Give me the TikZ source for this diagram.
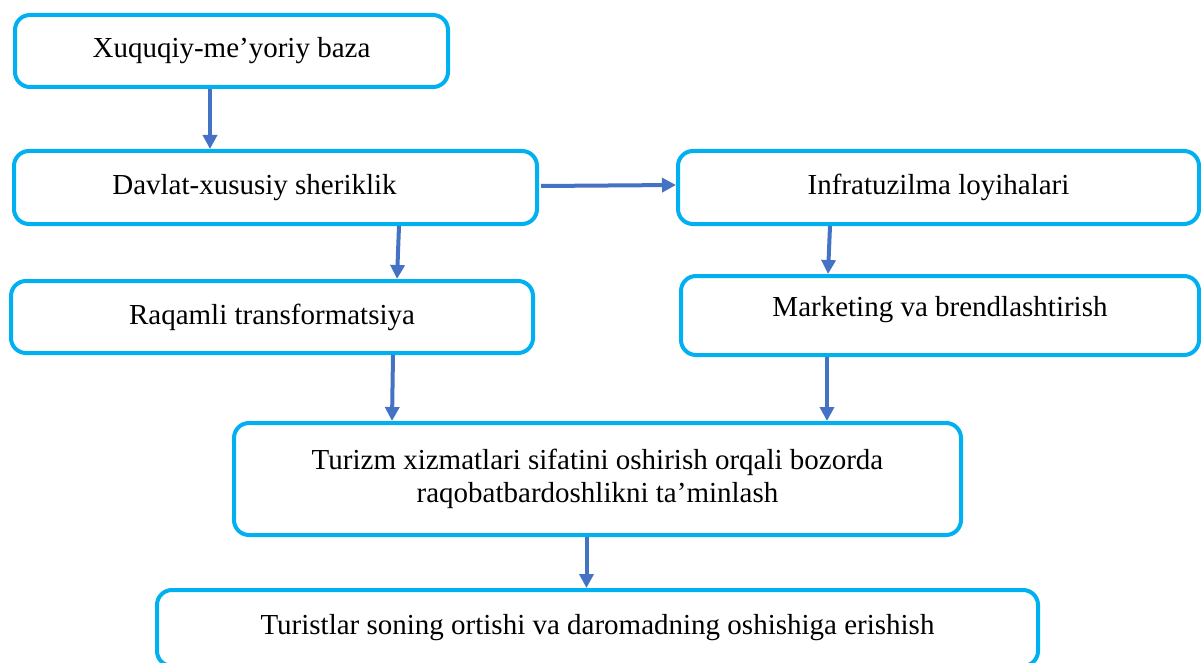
\documentclass[tikz,border=0pt]{standalone}
\usepackage{fontspec}
\setmainfont{Liberation Serif}
\usetikzlibrary{arrows.meta}
\definecolor{boxCyan}{HTML}{00B0F0}
\definecolor{arrowBlue}{HTML}{4472C4}
\begin{document}
\begin{tikzpicture}[x=1pt, y=-1pt, boxStyle/.style={rectangle, draw=boxCyan, line width=4pt, rounded corners=15pt, align=center, font=\fontsize{29}{33}\selectfont}, arrowStyle/.style={draw=arrowBlue, line width=4pt, -{Triangle[length=14pt, width=14pt]}}]
    \useasboundingbox (0, 0) rectangle (1201, 663);

    \node[boxStyle, minimum width=433pt, minimum height=72pt] (xuquqiy) at (231.5, 51) {Xuquqiy-me’yoriy baza};
    \node[boxStyle, minimum width=523pt, minimum height=73pt, label={[font=\fontsize{29}{33}\selectfont, xshift=-21pt]center:Davlat-xususiy sheriklik}] (davlat) at (275.5, 187.5) {};
    \node[boxStyle, minimum width=521pt, minimum height=73pt] (infra) at (938.5, 187.5) {Infratuzilma loyihalari};
    \node[boxStyle, minimum width=522pt, minimum height=72pt] (raqamli) at (272, 317) {Raqamli transformatsiya};
    \node[boxStyle, minimum width=518pt, minimum height=79pt, label={[font=\fontsize{29}{33}\selectfont, yshift=6pt]center:Marketing va brendlashtirish}] (marketing) at (940, 315.5) {};
    \node[boxStyle, minimum width=727pt, minimum height=112pt] (turizm) at (597.5, 479) {Turizm xizmatlari sifatini oshirish orqali bozorda\\raqobatbardoshlikni ta’minlash};
    \node[boxStyle, minimum width=881pt, minimum height=76pt] (turistlar) at (597.5, 628) {Turistlar soning ortishi va daromadning oshishiga erishish};

    \draw[arrowStyle] ([xshift=-21.5pt]xuquqiy.south) -- ([xshift=-65.5pt]davlat.north);
    \draw[arrowStyle] ([xshift=2pt, yshift=1.5pt]davlat.east) -- ([yshift=2.5pt]infra.west);
    \draw[arrowStyle] ([xshift=123.5pt]davlat.south) -- ([xshift=125pt]raqamli.north);
    \draw[arrowStyle] ([xshift=-108.5pt]infra.south) -- ([xshift=-112pt]marketing.north);
    \draw[arrowStyle] ([xshift=121pt]raqamli.south) -- ([xshift=-205.5pt]turizm.north);
    \draw[arrowStyle] ([xshift=-113pt]marketing.south) -- ([xshift=229.5pt]turizm.north);
    \draw[arrowStyle] ([xshift=-11pt]turizm.south) -- ([xshift=-11pt]turistlar.north);
\end{tikzpicture}
\end{document}
